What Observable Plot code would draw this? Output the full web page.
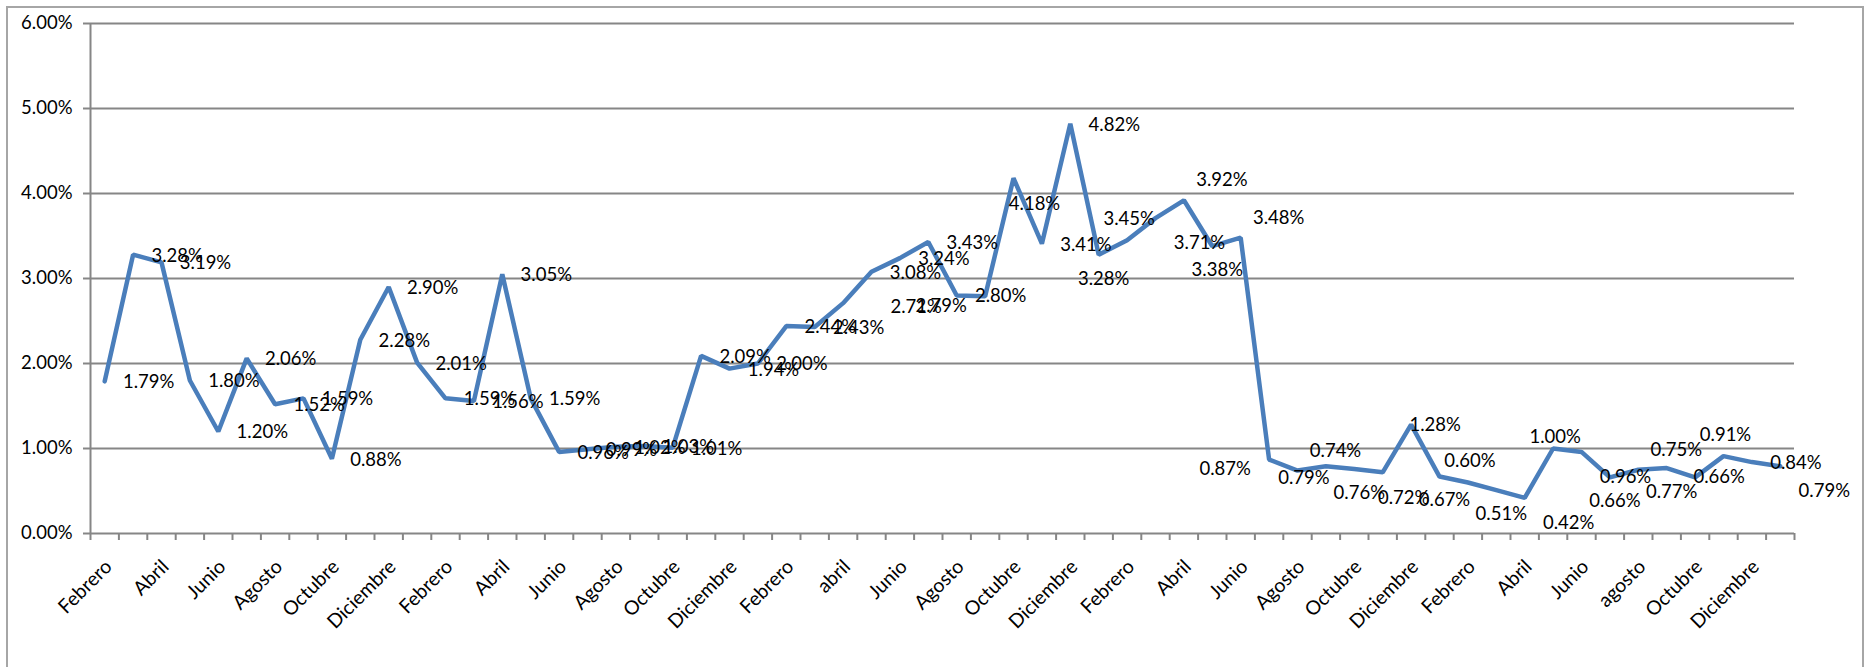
<!DOCTYPE html>
<html>
<head>
<meta charset="utf-8">
<script src="https://cdn.jsdelivr.net/npm/d3@7"></script>
<script src="https://cdn.jsdelivr.net/npm/@observablehq/plot@0.6"></script>
<style>
  body { margin: 0; background: #fff; }
  #grafico { position: relative; width: 1869px; height: 667px; overflow: hidden; }
  #marco { position: absolute; left: 6px; top: 6px; width: 1858px; height: 720px;
           border: 2px solid #a6a6a6; box-sizing: border-box; pointer-events: none; }
</style>
</head>
<body>
<div id="grafico"><div id="marco"></div></div>
<script>
// valores mensuales (%), desde Febrero
const valores = [
  1.79, 3.28, 3.19, 1.80, 1.20, 2.06, 1.52, 1.59, 0.88, 2.28,
  2.90, 2.01, 1.59, 1.56, 3.05, 1.59, 0.96, 0.99, 1.02, 1.03,
  1.01, 2.09, 1.94, 2.00, 2.44, 2.43, 2.71, 3.08, 3.24, 3.43,
  2.80, 2.79, 4.18, 3.41, 4.82, 3.28, 3.45, 3.71, 3.92, 3.38,
  3.48, 0.87, 0.74, 0.79, 0.76, 0.72, 1.28, 0.67, 0.60, 0.51,
  0.42, 1.00, 0.96, 0.66, 0.75, 0.77, 0.66, 0.91, 0.84, 0.79
];

// etiquetas del eje (una cada dos meses)
const etiquetasEje = [
  "Febrero", "Abril", "Junio", "Agosto", "Octubre", "Diciembre",
  "Febrero", "Abril", "Junio", "Agosto", "Octubre", "Diciembre",
  "Febrero", "abril", "Junio", "Agosto", "Octubre", "Diciembre",
  "Febrero", "Abril", "Junio", "Agosto", "Octubre", "Diciembre",
  "Febrero", "Abril", "Junio", "agosto", "Octubre", "Diciembre"
];

const ticksY = [0, 1, 2, 3, 4, 5, 6];

// posicion de cada etiqueta de datos (como en excel)
const posEtiqueta = [
  "r", "r", "r", "r", "r", "r", "r", "r", "r", "r",
  "r", "r", "r", "r", "r", "r", "r", "r", "r", "r",
  "r", "r", "r", "r", "r", "r", "r2", "r", "r", "r",
  "r", "l", "bc", "r", "r", "b", "a", "br", "ar", "b",
  "ar", "l", "ar", "bl", "b", "bc", "c", "b", "a", "b",
  "br", "a2", "br", "b", "ar", "b", "c", "a", "r", "br"
];

const desplazamientos = {
  r: [44, 1], r2: [73, 4], l: [-44, 10], a: [2, -21], a2: [2, -11], b: [5, 24],
  ar: [38, -20], br: [44, 25], bc: [21, 26], bl: [-22, 12], c: [24, 0]
};

const datos = valores.map((v, i) => ({i, valor: v, pos: posEtiqueta[i]}));
const datosEje = etiquetasEje.map((nombre, k) => ({i: k * 2, nombre}));

const gris = "#868686";
const fmt = d => d.toFixed(2) + "%";

const marcasEtiquetas = Object.entries(desplazamientos).map(([codigo, [dx, dy]]) =>
  Plot.text(datos.filter(d => d.pos === codigo), {
    x: "i", y: "valor", text: d => fmt(d.valor), dx, dy, fontSize: 18.5
  })
);

const chart = Plot.plot({
  width: 1869,
  height: 667,
  marginLeft: 90,
  marginRight: 75,
  marginTop: 23,
  marginBottom: 134,
  x: {type: "linear", domain: [-0.5, 59.5], label: null},
  y: {domain: [0, 6], label: null},
  style: {fontFamily: "Lato", fontSize: "18.5px", color: "black", background: "white"},
  marks: [
    Plot.ruleY(ticksY, {stroke: gris, strokeWidth: 2}),
    Plot.ruleX([-0.5], {stroke: gris, strokeWidth: 2}),
    Plot.axisY({ticks: ticksY, tickSize: 7, tickFormat: () => "", color: gris, strokeWidth: 2, label: null}),
    Plot.axisY({ticks: ticksY, tickSize: 0, tickPadding: 18, tickFormat: fmt, fontSize: 18.5, label: null}),
    Plot.axisX({ticks: d3.range(-0.5, 60, 1), tickSize: 7, tickFormat: () => "", color: gris, strokeWidth: 2, label: null}),
    Plot.text(datosEje, {
      x: "i", frameAnchor: "bottom", text: "nombre", rotate: -45,
      textAnchor: "end", lineAnchor: "middle", dx: 4, dy: 30, fontSize: 19.5
    }),
    Plot.line(datos, {x: "i", y: "valor", stroke: "#4A7EBB", strokeWidth: 4.5, strokeLinejoin: "miter"}),
    ...marcasEtiquetas
  ]
});

d3.select("#grafico").insert(() => chart, "#marco");
</script>
</body>
</html>
